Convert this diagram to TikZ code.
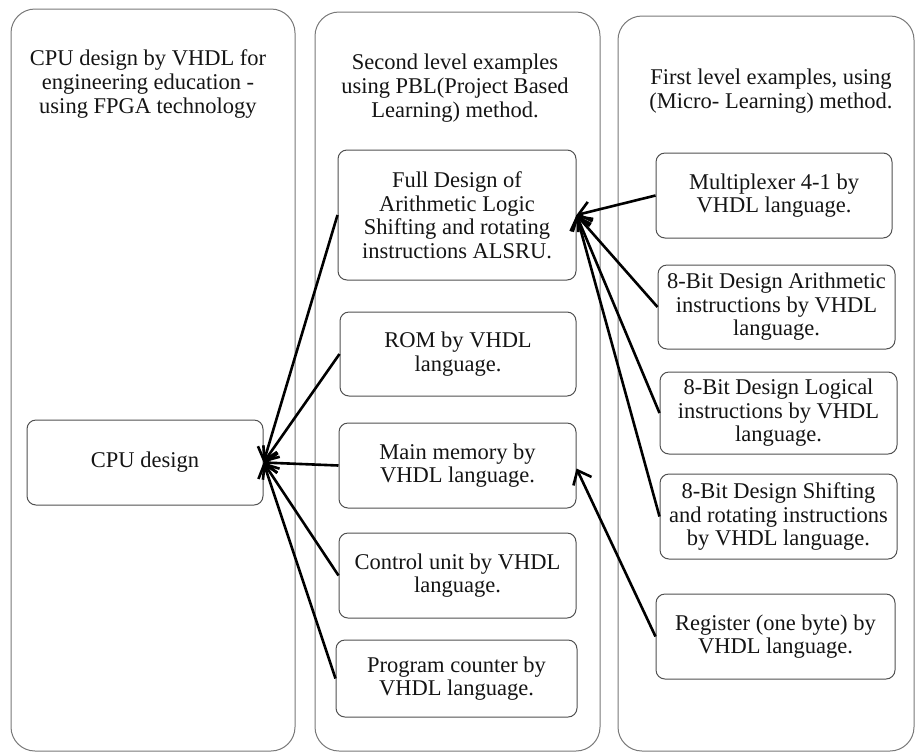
\documentclass[tikz,border=0pt]{standalone}
\usepackage{fontspec}
\setmainfont{Liberation Serif}
\usetikzlibrary{arrows.meta}
\definecolor{outerc}{RGB}{120,120,120}
\definecolor{innerc}{RGB}{80,80,80}
\definecolor{txt}{RGB}{20,20,20}
\tikzset{
  outerbox/.style={draw=outerc, line width=1pt, rounded corners=24pt},
  title/.style={align=center, inner sep=0pt, text=txt, font=\fontsize{22.5}{24}\selectfont},
  box/.style={draw=innerc, line width=1pt, rounded corners=9pt, align=center, inner sep=0pt,
    text=txt, font=\fontsize{22.5}{23.5}\selectfont},
  conn/.style={line width=2.6pt, -{Straight Barb[length=12pt,width=20pt,line width=2.6pt]}}
}
\begin{document}
\begin{tikzpicture}[x=1pt,y=-1pt]
\useasboundingbox (0,0) rectangle (917,753);
% column frames
\draw[outerbox] (11,9) rectangle (295,751);
\draw[outerbox] (315,12) rectangle (600,751);
\draw[outerbox] (618,16) rectangle (914,751);
% titles
\node[title] (t1) at (148,84) {CPU design by VHDL for\\engineering education -\\using FPGA technology};
\node[title] (t2) at (455,88) {Second level examples\\using PBL(Project Based\\Learning) method.};
\node[title] (t3) at (771,91) {First level examples, using\\(Micro- Learning) method.};
% column 1
\node[box, minimum width=236pt, minimum height=85pt] (cpu) at (145,462.5) {CPU design};
% column 2
\node[box, minimum width=238pt, minimum height=130pt] (full) at (457,215) {Full Design of\\Arithmetic Logic\\Shifting and rotating\\instructions ALSRU.};
\node[box, minimum width=236pt, minimum height=84pt] (rom) at (458,354) {ROM by VHDL\\language.};
\node[box, minimum width=237pt, minimum height=85pt] (mem) at (457.5,465.5) {Main memory by\\VHDL language.};
\node[box, minimum width=237pt, minimum height=85pt] (ctrl) at (457.5,575.5) {Control unit by VHDL\\language.};
\node[box, minimum width=241pt, minimum height=77pt] (pc) at (456.5,678.5) {Program counter by\\VHDL language.};
% column 3
\node[box, minimum width=236pt, minimum height=85pt] (mux) at (774,195.5) {Multiplexer 4-1 by\\VHDL language.};
\node[box, minimum width=237pt, minimum height=84pt] (arith) at (776.5,307) {8-Bit Design Arithmetic\\instructions by VHDL\\language.};
\node[box, minimum width=237pt, minimum height=82pt] (logic) at (778.5,413) {8-Bit Design Logical\\instructions by VHDL\\language.};
\node[box, minimum width=237pt, minimum height=85pt] (shift) at (778.5,516.5) {8-Bit Design Shifting\\and rotating instructions\\by VHDL language.};
\node[box, minimum width=239pt, minimum height=85pt] (reg) at (775.5,636.5) {Register (one byte) by\\VHDL language.};
% connectors into CPU design
\draw[conn] (full.west) -- (cpu.east);
\draw[conn] (rom.west) -- (cpu.east);
\draw[conn] (mem.west) -- (cpu.east);
\draw[conn] (ctrl.west) -- (cpu.east);
\draw[conn] (pc.west) -- (cpu.east);
% connectors into full design
\draw[conn] (mux.west) -- (full.east);
\draw[conn] (arith.west) -- (full.east);
\draw[conn] (logic.west) -- (full.east);
\draw[conn] (shift.west) -- (full.east);
% register to main memory
\draw[conn] (reg.west) -- ([yshift=-3pt]mem.east);
\end{tikzpicture}
\end{document}
